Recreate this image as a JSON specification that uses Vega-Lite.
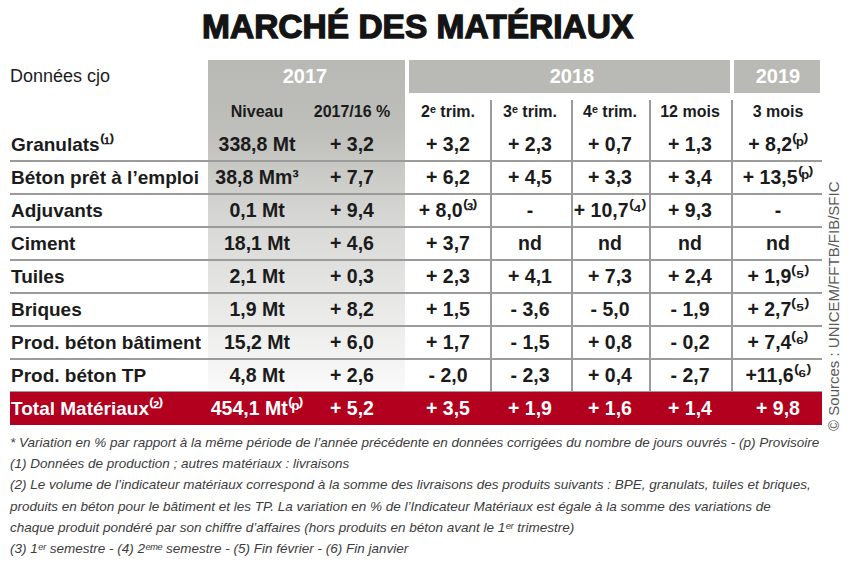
{
  "$schema": "https://vega.github.io/schema/vega-lite/v6.json",
  "width": 856,
  "height": 567,
  "autosize": "none",
  "padding": 0,
  "background": "white",
  "config": {"view": {"stroke": null}},
  "datasets": {
    "cadres": [
      {"nom": "2017", "c1": 0.5, "c2": 2.5, "l1": -0.5, "l2": 9.5},
      {"nom": "2018", "c1": 2.5, "c2": 6.5, "l1": -0.5, "l2": 0.5},
      {"nom": "2019", "c1": 6.5, "c2": 7.5, "l1": -0.5, "l2": 0.5},
      {"nom": "total", "c1": -0.5, "c2": 7.5, "l1": 9.5, "l2": 10.5}
    ],
    "filets_h": [
      {"ligne": 2.5}, {"ligne": 3.5}, {"ligne": 4.5}, {"ligne": 5.5},
      {"ligne": 6.5}, {"ligne": 7.5}, {"ligne": 8.5}, {"ligne": 9.5}
    ],
    "filets_v": [
      {"colonne": 3.5}, {"colonne": 4.5}, {"colonne": 5.5}, {"colonne": 6.5}
    ],
    "titre": [{"colonne": 2.63, "ligne": -2, "texte": "MARCHÉ DES MATÉRIAUX"}],
    "annees": [
      {"colonne": 1.5, "ligne": 0, "texte": "2017"},
      {"colonne": 4.5, "ligne": 0, "texte": "2018"},
      {"colonne": 7, "ligne": 0, "texte": "2019"}
    ],
    "sous_entetes": [
      {"colonne": 1, "ligne": 1, "texte": "Niveau"},
      {"colonne": 2, "ligne": 1, "texte": "2017/16 %"},
      {"colonne": 3, "ligne": 1, "texte": "2ᵉ trim."},
      {"colonne": 4, "ligne": 1, "texte": "3ᵉ trim."},
      {"colonne": 5, "ligne": 1, "texte": "4ᵉ trim."},
      {"colonne": 6, "ligne": 1, "texte": "12 mois"},
      {"colonne": 7, "ligne": 1, "texte": "3 mois"}
    ],
    "etiquettes": [
      {"colonne": -0.5, "ligne": 0, "texte": "Données cjo", "gras": "non"},
      {"colonne": -0.5, "ligne": 2, "texte": "Granulats⁽¹⁾", "gras": "oui"},
      {"colonne": -0.5, "ligne": 3, "texte": "Béton prêt à l’emploi", "gras": "oui"},
      {"colonne": -0.5, "ligne": 4, "texte": "Adjuvants", "gras": "oui"},
      {"colonne": -0.5, "ligne": 5, "texte": "Ciment", "gras": "oui"},
      {"colonne": -0.5, "ligne": 6, "texte": "Tuiles", "gras": "oui"},
      {"colonne": -0.5, "ligne": 7, "texte": "Briques", "gras": "oui"},
      {"colonne": -0.5, "ligne": 8, "texte": "Prod. béton bâtiment", "gras": "oui"},
      {"colonne": -0.5, "ligne": 9, "texte": "Prod. béton TP", "gras": "oui"},
      {"colonne": -0.5, "ligne": 10, "texte": "Total Matériaux⁽²⁾", "gras": "oui"}
    ],
    "valeurs": [
      {"ligne": 2, "colonne": 1, "texte": "338,8 Mt"},
      {"ligne": 2, "colonne": 2, "texte": "+ 3,2"},
      {"ligne": 2, "colonne": 3, "texte": "+ 3,2"},
      {"ligne": 2, "colonne": 4, "texte": "+ 2,3"},
      {"ligne": 2, "colonne": 5, "texte": "+ 0,7"},
      {"ligne": 2, "colonne": 6, "texte": "+ 1,3"},
      {"ligne": 2, "colonne": 7, "texte": "+ 8,2⁽ᵖ⁾"},
      {"ligne": 3, "colonne": 1, "texte": "38,8 Mm³"},
      {"ligne": 3, "colonne": 2, "texte": "+ 7,7"},
      {"ligne": 3, "colonne": 3, "texte": "+ 6,2"},
      {"ligne": 3, "colonne": 4, "texte": "+ 4,5"},
      {"ligne": 3, "colonne": 5, "texte": "+ 3,3"},
      {"ligne": 3, "colonne": 6, "texte": "+ 3,4"},
      {"ligne": 3, "colonne": 7, "texte": "+ 13,5⁽ᵖ⁾"},
      {"ligne": 4, "colonne": 1, "texte": "0,1 Mt"},
      {"ligne": 4, "colonne": 2, "texte": "+ 9,4"},
      {"ligne": 4, "colonne": 3, "texte": "+ 8,0⁽³⁾"},
      {"ligne": 4, "colonne": 4, "texte": "-"},
      {"ligne": 4, "colonne": 5, "texte": "+ 10,7⁽⁴⁾"},
      {"ligne": 4, "colonne": 6, "texte": "+ 9,3"},
      {"ligne": 4, "colonne": 7, "texte": "-"},
      {"ligne": 5, "colonne": 1, "texte": "18,1 Mt"},
      {"ligne": 5, "colonne": 2, "texte": "+ 4,6"},
      {"ligne": 5, "colonne": 3, "texte": "+ 3,7"},
      {"ligne": 5, "colonne": 4, "texte": "nd"},
      {"ligne": 5, "colonne": 5, "texte": "nd"},
      {"ligne": 5, "colonne": 6, "texte": "nd"},
      {"ligne": 5, "colonne": 7, "texte": "nd"},
      {"ligne": 6, "colonne": 1, "texte": "2,1 Mt"},
      {"ligne": 6, "colonne": 2, "texte": "+ 0,3"},
      {"ligne": 6, "colonne": 3, "texte": "+ 2,3"},
      {"ligne": 6, "colonne": 4, "texte": "+ 4,1"},
      {"ligne": 6, "colonne": 5, "texte": "+ 7,3"},
      {"ligne": 6, "colonne": 6, "texte": "+ 2,4"},
      {"ligne": 6, "colonne": 7, "texte": "+ 1,9⁽⁵⁾"},
      {"ligne": 7, "colonne": 1, "texte": "1,9 Mt"},
      {"ligne": 7, "colonne": 2, "texte": "+ 8,2"},
      {"ligne": 7, "colonne": 3, "texte": "+ 1,5"},
      {"ligne": 7, "colonne": 4, "texte": "- 3,6"},
      {"ligne": 7, "colonne": 5, "texte": "- 5,0"},
      {"ligne": 7, "colonne": 6, "texte": "- 1,9"},
      {"ligne": 7, "colonne": 7, "texte": "+ 2,7⁽⁵⁾"},
      {"ligne": 8, "colonne": 1, "texte": "15,2 Mt"},
      {"ligne": 8, "colonne": 2, "texte": "+ 6,0"},
      {"ligne": 8, "colonne": 3, "texte": "+ 1,7"},
      {"ligne": 8, "colonne": 4, "texte": "- 1,5"},
      {"ligne": 8, "colonne": 5, "texte": "+ 0,8"},
      {"ligne": 8, "colonne": 6, "texte": "- 0,2"},
      {"ligne": 8, "colonne": 7, "texte": "+ 7,4⁽⁶⁾"},
      {"ligne": 9, "colonne": 1, "texte": "4,8 Mt"},
      {"ligne": 9, "colonne": 2, "texte": "+ 2,6"},
      {"ligne": 9, "colonne": 3, "texte": "- 2,0"},
      {"ligne": 9, "colonne": 4, "texte": "- 2,3"},
      {"ligne": 9, "colonne": 5, "texte": "+ 0,4"},
      {"ligne": 9, "colonne": 6, "texte": "- 2,7"},
      {"ligne": 9, "colonne": 7, "texte": "+11,6⁽⁶⁾"},
      {"ligne": 10, "colonne": 1, "texte": "454,1 Mt⁽ᵖ⁾"},
      {"ligne": 10, "colonne": 2, "texte": "+ 5,2"},
      {"ligne": 10, "colonne": 3, "texte": "+ 3,5"},
      {"ligne": 10, "colonne": 4, "texte": "+ 1,9"},
      {"ligne": 10, "colonne": 5, "texte": "+ 1,6"},
      {"ligne": 10, "colonne": 6, "texte": "+ 1,4"},
      {"ligne": 10, "colonne": 7, "texte": "+ 9,8"}
    ],
    "notes": [
      {"colonne": -0.5, "ligne": 11, "texte": "* Variation en % par rapport à la même période de l’année précédente en données corrigées du nombre de jours ouvrés - (p) Provisoire"},
      {"colonne": -0.5, "ligne": 12, "texte": "(1) Données de production ; autres matériaux : livraisons"},
      {"colonne": -0.5, "ligne": 13, "texte": "(2) Le volume de l’indicateur matériaux correspond à la somme des livraisons des produits suivants : BPE, granulats, tuiles et briques,"},
      {"colonne": -0.5, "ligne": 14, "texte": "produits en béton pour le bâtiment et les TP. La variation en % de l’Indicateur Matériaux est égale à la somme des variations de"},
      {"colonne": -0.5, "ligne": 15, "texte": "chaque produit pondéré par son chiffre d’affaires (hors produits en béton avant le 1ᵉʳ trimestre)"},
      {"colonne": -0.5, "ligne": 16, "texte": "(3) 1ᵉʳ semestre - (4) 2ᵉᵐᵉ semestre - (5) Fin février - (6) Fin janvier"}
    ],
    "source": [{"colonne": 8, "ligne": 6.9, "texte": "© Sources : UNICEM/FFTB/FIB/SFIC"}]
  },
  "layer": [
    {
      "data": {"name": "cadres"},
      "transform": [{"filter": "datum.nom == '2017'"}],
      "mark": {
        "type": "rect",
        "stroke": "white",
        "strokeWidth": 4,
        "color": {
          "gradient": "linear", "x1": 0, "y1": 0, "x2": 0, "y2": 1,
          "stops": [
            {"offset": 0, "color": "#b8b9b4"},
            {"offset": 0.21, "color": "#bebfba"},
            {"offset": 0.5, "color": "#d8d8d6"},
            {"offset": 1, "color": "#fafafa"}
          ]
        }
      },
      "encoding": {
        "x": {"field": "c1", "type": "quantitative", "axis": null, "scale": {"type": "linear", "zero": false, "nice": false, "domain": [-0.5, 0.5, 1, 1.5, 2, 2.5, 3, 3.5, 4, 4.5, 5, 5.5, 6, 6.5, 7, 7.5, 8, 8.5], "range": [10, 206, 257, 305, 352, 407, 448, 491, 530, 572, 610, 650, 690, 732, 778, 822, 834, 856]}},
        "x2": {"field": "c2"},
        "y": {"field": "l1", "type": "quantitative", "axis": null, "scale": {"type": "linear", "zero": false, "nice": false, "domain": [-2, -0.5, 0.5, 1.5, 10.5, 11, 16], "range": [38, 58, 95, 128, 425, 443, 549]}},
        "y2": {"field": "l2"}
      }
    },
    {
      "data": {"name": "cadres"},
      "transform": [{"filter": "datum.nom == '2018' || datum.nom == '2019'"}],
      "mark": {"type": "rect", "color": "#b9bab5", "stroke": "white", "strokeWidth": 4},
      "encoding": {
        "x": {"field": "c1", "type": "quantitative"},
        "x2": {"field": "c2"},
        "y": {"field": "l1", "type": "quantitative"},
        "y2": {"field": "l2"}
      }
    },
    {
      "data": {"name": "filets_h"},
      "mark": {"type": "rule", "color": "#9b9b9b", "strokeWidth": 2},
      "encoding": {
        "x": {"datum": -0.5, "type": "quantitative"},
        "x2": {"datum": 7.5},
        "y": {"field": "ligne", "type": "quantitative"}
      }
    },
    {
      "data": {"name": "filets_v"},
      "mark": {"type": "rule", "color": "#9b9b9b", "strokeWidth": 2},
      "encoding": {
        "x": {"field": "colonne", "type": "quantitative"},
        "y": {"datum": 0.65, "type": "quantitative"},
        "y2": {"datum": 9.5}
      }
    },
    {
      "data": {"name": "cadres"},
      "transform": [{"filter": "datum.nom == 'total'"}],
      "mark": {"type": "rect", "color": "#b2001e"},
      "encoding": {
        "x": {"field": "c1", "type": "quantitative"},
        "x2": {"field": "c2"},
        "y": {"field": "l1", "type": "quantitative"},
        "y2": {"field": "l2"}
      }
    },
    {
      "data": {"name": "titre"},
      "mark": {"type": "text", "font": "Liberation Sans", "fontWeight": "bold", "fontSize": 33.5, "color": "#141414", "stroke": "#141414", "strokeWidth": 1.3, "align": "center", "baseline": "alphabetic"},
      "encoding": {
        "x": {"field": "colonne", "type": "quantitative"},
        "y": {"field": "ligne", "type": "quantitative"},
        "text": {"field": "texte"}
      }
    },
    {
      "data": {"name": "annees"},
      "mark": {"type": "text", "font": "Liberation Sans", "fontWeight": "bold", "fontSize": 20, "color": "white", "align": "center", "baseline": "middle"},
      "encoding": {
        "x": {"field": "colonne", "type": "quantitative"},
        "y": {"field": "ligne", "type": "quantitative"},
        "text": {"field": "texte"}
      }
    },
    {
      "data": {"name": "sous_entetes"},
      "mark": {"type": "text", "font": "Liberation Sans", "fontWeight": "bold", "fontSize": 16, "color": "#1b1b1b", "align": "center", "baseline": "middle"},
      "encoding": {
        "x": {"field": "colonne", "type": "quantitative"},
        "y": {"field": "ligne", "type": "quantitative"},
        "text": {"field": "texte"}
      }
    },
    {
      "data": {"name": "etiquettes"},
      "transform": [{"filter": "datum.gras == 'oui'"}],
      "mark": {"type": "text", "font": "Liberation Sans", "fontWeight": "bold", "fontSize": 19, "align": "left", "baseline": "middle", "dx": 1},
      "encoding": {
        "x": {"field": "colonne", "type": "quantitative"},
        "y": {"field": "ligne", "type": "quantitative"},
        "text": {"field": "texte"},
        "color": {"condition": {"test": "datum.ligne == 10", "value": "white"}, "value": "#1b1b1b"}
      }
    },
    {
      "data": {"name": "etiquettes"},
      "transform": [{"filter": "datum.gras == 'non'"}],
      "mark": {"type": "text", "font": "Liberation Sans", "fontSize": 18, "color": "#1b1b1b", "align": "left", "baseline": "middle"},
      "encoding": {
        "x": {"field": "colonne", "type": "quantitative"},
        "y": {"field": "ligne", "type": "quantitative"},
        "text": {"field": "texte"}
      }
    },
    {
      "data": {"name": "valeurs"},
      "mark": {"type": "text", "font": "Liberation Sans", "fontWeight": "bold", "fontSize": 19.5, "align": "center", "baseline": "middle"},
      "encoding": {
        "x": {"field": "colonne", "type": "quantitative"},
        "y": {"field": "ligne", "type": "quantitative"},
        "text": {"field": "texte"},
        "color": {"condition": {"test": "datum.ligne == 10", "value": "white"}, "value": "#1b1b1b"}
      }
    },
    {
      "data": {"name": "notes"},
      "mark": {"type": "text", "font": "Liberation Sans", "fontStyle": "italic", "fontSize": 13.5, "color": "#3c3c3c", "align": "left", "baseline": "middle"},
      "encoding": {
        "x": {"field": "colonne", "type": "quantitative"},
        "y": {"field": "ligne", "type": "quantitative"},
        "text": {"field": "texte"}
      }
    },
    {
      "data": {"name": "source"},
      "mark": {"type": "text", "font": "Liberation Sans", "fontSize": 15, "color": "#5a5a5a", "align": "center", "baseline": "middle", "angle": 270},
      "encoding": {
        "x": {"field": "colonne", "type": "quantitative"},
        "y": {"field": "ligne", "type": "quantitative"},
        "text": {"field": "texte"}
      }
    }
  ]
}
